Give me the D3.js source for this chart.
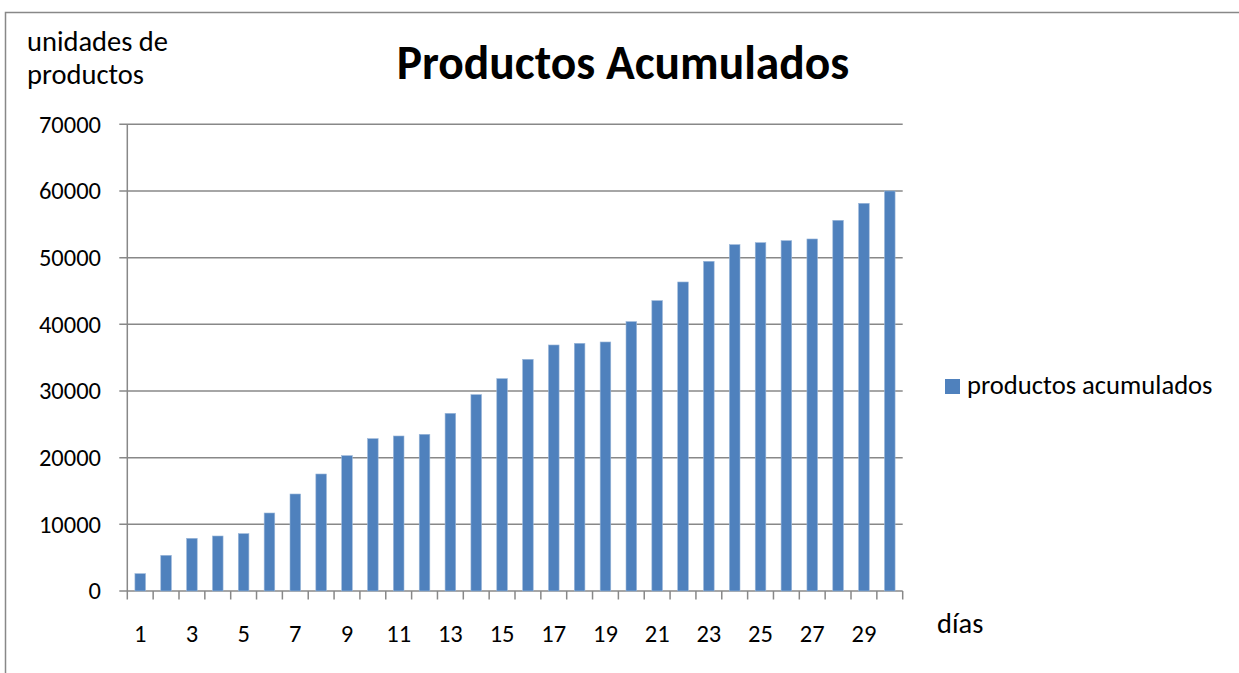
<!DOCTYPE html>
<html><head><meta charset="utf-8">
<script src="https://cdn.jsdelivr.net/npm/d3@7"></script>
<style>
html,body{margin:0;padding:0;background:#fff;}
svg{display:block;font-family:Carlito, Lato, sans-serif;}
</style></head>
<body>
<script>
const days = d3.range(1, 31).map(String);
const productosAcumulados = [2600, 5350, 7900, 8250, 8600, 11700, 14550, 17550, 20300, 22850,
  23250, 23500, 26650, 29450, 31850, 34750, 36900, 37150, 37350, 40400,
  43550, 46350, 49450, 51950, 52250, 52550, 52800, 55600, 58150, 60000];
const yTicks = [0, 10000, 20000, 30000, 40000, 50000, 60000, 70000];
const xTickLabels = days.filter((d, i) => i % 2 === 0);
const title = "Productos Acumulados";
const yLabel = ["unidades de", "productos"];
const xLabel = "días";
const legendLabel = "productos acumulados";

const W = 1239, H = 673;
const L = 127.3, R = 902.7, T = 124.3, B = 591;
const svg = d3.select("body").append("svg").attr("width", W).attr("height", H);

svg.append("rect").attr("x", 5.5).attr("y", 12.5).attr("width", 1400).attr("height", 800)
  .attr("fill", "#fff").attr("stroke", "#888").attr("stroke-width", 1.5);

const x = d3.scaleBand().domain(days).range([L, R]).paddingInner(0.59).paddingOuter(0.295);
const y = d3.scaleLinear().domain([0, 70000]).range([B, T]);
const grey = "#888";

// gridlines
svg.append("g").selectAll("line").data(yTicks).join("line")
  .attr("x1", L - 8).attr("x2", R).attr("y1", d => y(d)).attr("y2", d => y(d))
  .attr("stroke", grey).attr("stroke-width", 1.5);

// y axis line
svg.append("line").attr("x1", L).attr("x2", L).attr("y1", T).attr("y2", B)
  .attr("stroke", grey).attr("stroke-width", 1.5);

// y tick labels
svg.append("g").selectAll("text").data(yTicks).join("text")
  .attr("x", 101).attr("y", d => y(d)).attr("dy", "0.34em").attr("text-anchor", "end")
  .attr("font-size", 24.5).attr("fill", "#000").text(d => d);

// x ticks at band boundaries
const step = x.step();
const bounds = days.map(d => x(d) - (step - x.bandwidth()) / 2).concat([R]);
svg.append("g").selectAll("line").data(bounds).join("line")
  .attr("x1", d => d).attr("x2", d => d).attr("y1", B).attr("y2", B + 8.5)
  .attr("stroke", grey).attr("stroke-width", 1.5);

// bars
svg.append("g").selectAll("rect").data(productosAcumulados).join("rect")
  .attr("x", (d, i) => x(days[i])).attr("width", x.bandwidth())
  .attr("y", d => y(d)).attr("height", d => B - y(d))
  .attr("fill", "#4F81BD").attr("stroke", "#9bb7d9").attr("stroke-width", 0.6);

// x tick labels
svg.append("g").selectAll("text").data(xTickLabels).join("text")
  .attr("x", d => x(d) + x.bandwidth() / 2).attr("y", 642).attr("text-anchor", "middle")
  .attr("font-size", 24.5).attr("fill", "#000").text(d => d);

// title
svg.append("text").attr("x", 623).attr("y", 79).attr("text-anchor", "middle")
  .attr("font-size", 47.5).attr("font-weight", "bold").attr("fill", "#000").text(title);

// y label
svg.append("text").attr("x", 27).attr("y", 51).attr("font-size", 28.5).attr("fill", "#000").text(yLabel[0]);
svg.append("text").attr("x", 27).attr("y", 84).attr("font-size", 28.5).attr("fill", "#000").text(yLabel[1]);

// x label
svg.append("text").attr("x", 937).attr("y", 633).attr("font-size", 28.5).attr("fill", "#000").text(xLabel);

// legend
svg.append("rect").attr("x", 945).attr("y", 379).attr("width", 15).attr("height", 15).attr("fill", "#4F81BD");
svg.append("text").attr("x", 967).attr("y", 394).attr("font-size", 26.6).attr("fill", "#000").text(legendLabel);
</script>
</body></html>
